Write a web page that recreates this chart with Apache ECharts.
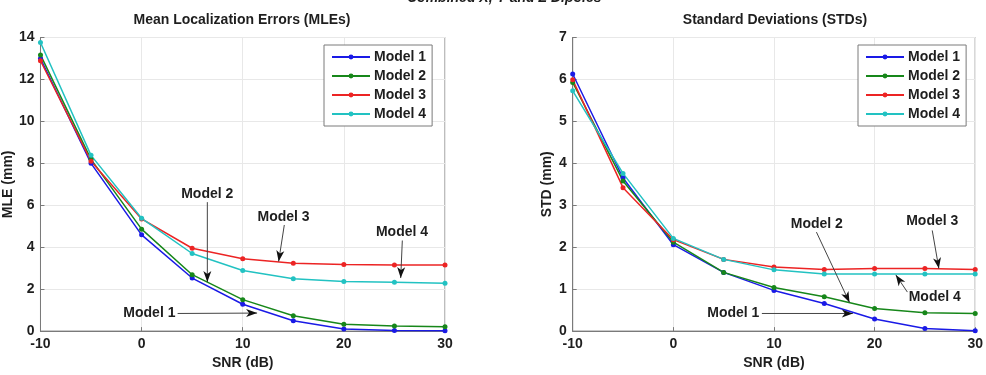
<!DOCTYPE html>
<html>
<head>
<meta charset="utf-8">
<script src="https://cdn.jsdelivr.net/npm/echarts@6/dist/echarts.min.js"></script>
<style>
    html, body { margin: 0; padding: 0; background: #fff; }
    #chart { width: 986px; height: 375px; }
</style>
</head>
<body>
<div id="chart"></div>
<script>
(function () {
    'use strict';

    var snr = [-10, -5, 0, 5, 10, 15, 20, 25, 30];
    var modelNames = ['Model 1', 'Model 2', 'Model 3', 'Model 4'];

    // mean localization errors (mm)
    var mleModel1 = [13.00, 8.00, 4.59, 2.53, 1.28, 0.49, 0.10, 0.03, 0.02];
    var mleModel2 = [13.17, 8.19, 4.86, 2.69, 1.50, 0.73, 0.33, 0.24, 0.21];
    var mleModel3 = [12.89, 8.10, 5.35, 3.95, 3.45, 3.24, 3.18, 3.15, 3.15];
    var mleModel4 = [13.76, 8.38, 5.38, 3.70, 2.89, 2.50, 2.37, 2.33, 2.28];

    // standard deviations (mm)
    var stdModel1 = [6.13, 3.65, 2.06, 1.40, 0.97, 0.66, 0.29, 0.06, 0.01];
    var stdModel2 = [5.93, 3.58, 2.12, 1.40, 1.04, 0.82, 0.54, 0.44, 0.42];
    var stdModel3 = [5.99, 3.42, 2.18, 1.71, 1.53, 1.47, 1.49, 1.49, 1.47];
    var stdModel4 = [5.73, 3.76, 2.21, 1.71, 1.46, 1.36, 1.36, 1.36, 1.36];

    // text callouts, in data units: label centre, arrow start, arrow tip
    var mleNotes = [
        { text: 'Model 1', at: [0.77, 0.84], from: [3.56, 0.84], to: [11.42, 0.86] },
        { text: 'Model 2', at: [6.49, 6.53], from: [6.50, 6.15], to: [6.50, 2.34] },
        { text: 'Model 3', at: [14.04, 5.43], from: [14.11, 5.06], to: [13.55, 3.32] },
        { text: 'Model 4', at: [25.75, 4.74], from: [25.78, 4.32], to: [25.62, 2.53] }
    ];
    var stdNotes = [
        { text: 'Model 1', at: [5.96, 0.42], from: [8.80, 0.42], to: [17.84, 0.42] },
        { text: 'Model 2', at: [14.26, 2.55], from: [14.22, 2.36], to: [17.51, 0.68] },
        { text: 'Model 3', at: [25.73, 2.61], from: [25.73, 2.40], to: [26.39, 1.49] },
        { text: 'Model 4', at: [25.98, 0.82], from: [23.26, 0.93], to: [22.11, 1.34] }
    ];

    var COLORS = ['#1a1ae6', '#17871a', '#ec2424', '#22c2c2'];
    var FONT = 'Liberation Sans, Arial, sans-serif';
    var TEXT_COLOR = '#1e1e1e';

    var chart = echarts.init(document.getElementById('chart'), null, { renderer: 'canvas' });

    function pairs(values) {
        return snr.map(function (x, i) { return [x, values[i]]; });
    }

    function makeSeries(valueSets, gridIndex) {
        return valueSets.map(function (values, i) {
            return {
                name: modelNames[i],
                type: 'line',
                xAxisIndex: gridIndex,
                yAxisIndex: gridIndex,
                data: pairs(values),
                symbol: 'circle',
                symbolSize: 5,
                color: COLORS[i],
                lineStyle: { width: 1.5, color: COLORS[i] },
                itemStyle: { color: COLORS[i] },
                animation: false
            };
        });
    }

    function makeXAxis(gridIndex) {
        return {
            type: 'value',
            gridIndex: gridIndex,
            min: -10,
            max: 30,
            interval: 10,
            name: 'SNR (dB)',
            nameLocation: 'middle',
            nameGap: 21,
            nameTextStyle: { fontFamily: FONT, fontSize: 14, fontWeight: 'bold', color: TEXT_COLOR },
            axisLine: { show: true, onZero: false, lineStyle: { color: '#7a7a7a', width: 1 } },
            axisTick: { show: true, inside: true, length: 4, lineStyle: { color: '#7a7a7a' } },
            axisLabel: { fontFamily: FONT, fontSize: 14, fontWeight: 'bold', color: TEXT_COLOR, margin: 6 },
            splitLine: { show: true, lineStyle: { color: '#e8e8e8', width: 1 } }
        };
    }

    function makeYAxis(gridIndex, max, interval, name, gap) {
        return {
            type: 'value',
            gridIndex: gridIndex,
            min: 0,
            max: max,
            interval: interval,
            name: name,
            nameLocation: 'middle',
            nameGap: gap,
            nameTextStyle: { fontFamily: FONT, fontSize: 14, fontWeight: 'bold', color: TEXT_COLOR },
            axisLine: { show: true, onZero: false, lineStyle: { color: '#7a7a7a', width: 1 } },
            axisTick: { show: true, inside: true, length: 4, lineStyle: { color: '#7a7a7a' } },
            axisLabel: { fontFamily: FONT, fontSize: 14, fontWeight: 'bold', color: TEXT_COLOR, margin: 6 },
            splitLine: { show: true, lineStyle: { color: '#e8e8e8', width: 1 } }
        };
    }

    function makeLegend(left) {
        return {
            data: modelNames,
            orient: 'vertical',
            left: left,
            top: 45,
            itemWidth: 38,
            itemHeight: 6,
            itemGap: 3,
            padding: [4, 6, 4, 7],
            borderColor: '#7a7a7a',
            borderWidth: 1,
            backgroundColor: '#fff',
            textStyle: {
                fontFamily: FONT, fontSize: 14, fontWeight: 'bold', color: TEXT_COLOR,
                lineHeight: 16, padding: [0, 0, 0, -1]
            }
        };
    }

    var option = {
        backgroundColor: '#fff',
        animation: false,
        title: [
            {
                text: 'Mean Localization Errors (MLEs)',
                left: 242, top: 13, textAlign: 'center', padding: 0,
                textStyle: { fontFamily: FONT, fontSize: 14, fontWeight: 'bold', color: TEXT_COLOR }
            },
            {
                text: 'Standard Deviations (STDs)',
                left: 775, top: 13, textAlign: 'center', padding: 0,
                textStyle: { fontFamily: FONT, fontSize: 14, fontWeight: 'bold', color: TEXT_COLOR }
            }
        ],
        legend: [makeLegend(324), makeLegend(858)],
        grid: [
            { left: 39.5, right: 541, top: 37.5, bottom: 42.3, show: true, borderColor: '#7a7a7a', borderWidth: 1 },
            { left: 572.7, right: 7.7, top: 37.5, bottom: 42.3, show: true, borderColor: '#7a7a7a', borderWidth: 1 }
        ],
        xAxis: [makeXAxis(0), makeXAxis(1)],
        yAxis: [makeYAxis(0, 14, 2, 'MLE (mm)', 24), makeYAxis(1, 7, 1, 'STD (mm)', 19)],
        series: makeSeries([mleModel1, mleModel2, mleModel3, mleModel4], 0)
            .concat(makeSeries([stdModel1, stdModel2, stdModel3, stdModel4], 1))
    };

    chart.setOption(option);

    // callout labels and arrows, placed through the axes
    function arrowHead(tip, from) {
        var dx = tip[0] - from[0];
        var dy = tip[1] - from[1];
        var len = Math.sqrt(dx * dx + dy * dy) || 1;
        var ux = dx / len, uy = dy / len;
        var px = -uy, py = ux;
        var headLen = 11, halfW = 4, notch = 3;
        var back = [tip[0] - ux * headLen, tip[1] - uy * headLen];
        return [
            tip,
            [back[0] + px * halfW, back[1] + py * halfW],
            [tip[0] - ux * (headLen - notch), tip[1] - uy * (headLen - notch)],
            [back[0] - px * halfW, back[1] - py * halfW]
        ];
    }

    var graphics = [{
        type: 'text',
        left: 407,
        top: -9,
        style: {
            text: 'Combined X, Y and Z Dipoles',
            font: 'italic bold 14px ' + FONT,
            fill: TEXT_COLOR
        }
    }];

    [mleNotes, stdNotes].forEach(function (notes, gridIndex) {
        notes.forEach(function (note) {
            var at = chart.convertToPixel({ gridIndex: gridIndex }, note.at);
            var from = chart.convertToPixel({ gridIndex: gridIndex }, note.from);
            var to = chart.convertToPixel({ gridIndex: gridIndex }, note.to);
            graphics.push({
                type: 'line',
                shape: { x1: from[0], y1: from[1], x2: to[0], y2: to[1] },
                style: { stroke: '#444', lineWidth: 1 },
                z: 10
            });
            graphics.push({
                type: 'polygon',
                shape: { points: arrowHead(to, from) },
                style: { fill: '#111' },
                z: 11
            });
            graphics.push({
                type: 'text',
                x: at[0],
                y: at[1],
                style: {
                    text: note.text,
                    font: 'bold 14px ' + FONT,
                    fill: TEXT_COLOR,
                    align: 'center',
                    verticalAlign: 'middle'
                },
                z: 12
            });
        });
    });

    chart.setOption({ graphic: graphics });
})();
</script>
</body>
</html>
